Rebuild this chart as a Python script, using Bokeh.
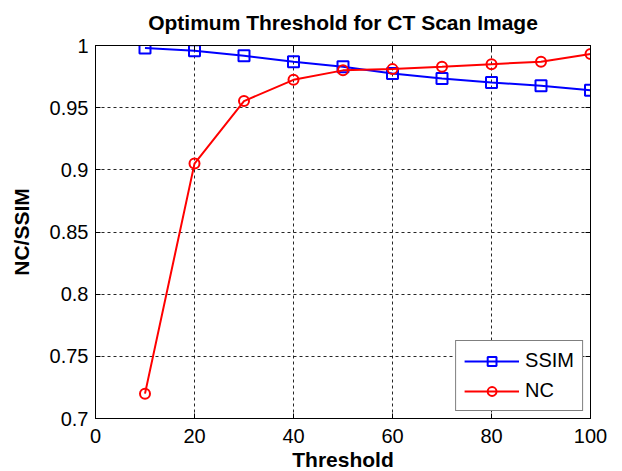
from bokeh.plotting import figure
from bokeh.models import LinearAxis, FixedTicker, Range1d
from bokeh.embed import file_html
from bokeh.resources import INLINE

threshold = [10, 20, 30, 40, 50, 60, 70, 80, 90, 100]
ssim = [0.998, 0.9957, 0.9917, 0.987, 0.983, 0.9775, 0.9735, 0.9703, 0.9676, 0.9641]
nc = [0.72, 0.905, 0.9553, 0.9724, 0.980, 0.981, 0.9829, 0.985, 0.9869, 0.9931]

x_ticks = [0, 20, 40, 60, 80, 100]
x_tick_labels = ["0", "20", "40", "60", "80", "100"]
y_ticks = [0.7, 0.75, 0.8, 0.85, 0.9, 0.95, 1.0]
y_tick_labels = ["0.7", "0.75", "0.8", "0.85", "0.9", "0.95", "1"]

FONT = "Liberation Sans"

p = figure(width=614, height=468, output_backend="svg", toolbar_location=None,
           x_range=Range1d(0, 100), y_range=Range1d(0.7, 1.0),
           frame_width=495, frame_height=373,
           min_border_left=95, min_border_right=24, min_border_top=45, min_border_bottom=50,
           title="Optimum Threshold for CT Scan Image")
p.background_fill_color = "white"
p.border_fill_color = "white"
p.outline_line_color = "black"
p.outline_line_width = 1

p.title.align = "center"
p.title.vertical_align = "top"
p.title.text_font = FONT
p.title.text_font_size = "21px"
p.title.text_font_style = "bold"
p.title.text_color = "black"
p.title.offset = 0
p.title.standoff = 20

for ax in (p.xaxis[0], p.yaxis[0]):
    ax.major_label_text_font = FONT
    ax.major_label_text_font_size = "20px"
    ax.major_label_text_color = "black"
    ax.axis_label_text_font = FONT
    ax.axis_label_text_font_size = "21px"
    ax.axis_label_text_font_style = "bold"
    ax.axis_label_text_color = "black"
    ax.major_tick_in = 5
    ax.major_tick_out = 0
    ax.minor_tick_line_color = None
    ax.axis_line_color = "black"
    ax.major_tick_line_color = "black"

p.xaxis[0].ticker = FixedTicker(ticks=x_ticks)
p.xaxis[0].major_label_overrides = {t: l for t, l in zip(x_ticks, x_tick_labels)}
p.yaxis[0].ticker = FixedTicker(ticks=y_ticks)
p.yaxis[0].major_label_overrides = {t: l for t, l in zip(y_ticks, y_tick_labels)}
p.xaxis[0].axis_label = "Threshold"
p.yaxis[0].axis_label = "NC/SSIM"
p.xaxis[0].major_label_standoff = 10
p.xaxis[0].axis_label_standoff = 2
p.yaxis[0].major_label_standoff = 7
p.yaxis[0].axis_label_standoff = 14

top = LinearAxis(ticker=FixedTicker(ticks=x_ticks),
                 major_label_overrides={t: "" for t in x_ticks},
                 major_tick_in=5, major_tick_out=0, minor_tick_line_color=None,
                 axis_line_color="black", major_label_standoff=0)
right = LinearAxis(ticker=FixedTicker(ticks=y_ticks),
                   major_label_overrides={t: "" for t in y_ticks},
                   major_tick_in=5, major_tick_out=0, minor_tick_line_color=None,
                   axis_line_color="black", major_label_standoff=0)
p.add_layout(top, "above")
p.add_layout(right, "right")

p.xgrid.ticker = FixedTicker(ticks=x_ticks)
p.ygrid.ticker = FixedTicker(ticks=y_ticks)
for g in (p.xgrid[0], p.ygrid[0]):
    g.grid_line_color = "black"
    g.grid_line_alpha = 0.85
    g.grid_line_dash = "3 3"
    g.grid_line_width = 1

p.line(threshold, ssim, line_color="#0000FF", line_width=2, legend_label="SSIM")
p.scatter(threshold, ssim, marker="square", size=11, line_color="#0000FF", line_width=2,
          fill_color=None, legend_label="SSIM")
p.line(threshold, nc, line_color="#FF0000", line_width=2, legend_label="NC")
p.scatter(threshold, nc, marker="circle", size=10, line_color="#FF0000", line_width=2,
          fill_color=None, legend_label="NC")

lg = p.legend[0]
lg.location = "bottom_right"
lg.margin = 7
lg.border_line_color = "black"
lg.border_line_width = 1
lg.background_fill_color = "white"
lg.background_fill_alpha = 1
lg.label_text_font = FONT
lg.label_text_font_size = "20px"
lg.label_text_color = "black"
lg.glyph_width = 55
lg.glyph_height = 22
lg.label_height = 22
lg.spacing = 7
lg.padding = 8
lg.label_standoff = 6

open("out.html", "w").write(file_html(p, INLINE))
